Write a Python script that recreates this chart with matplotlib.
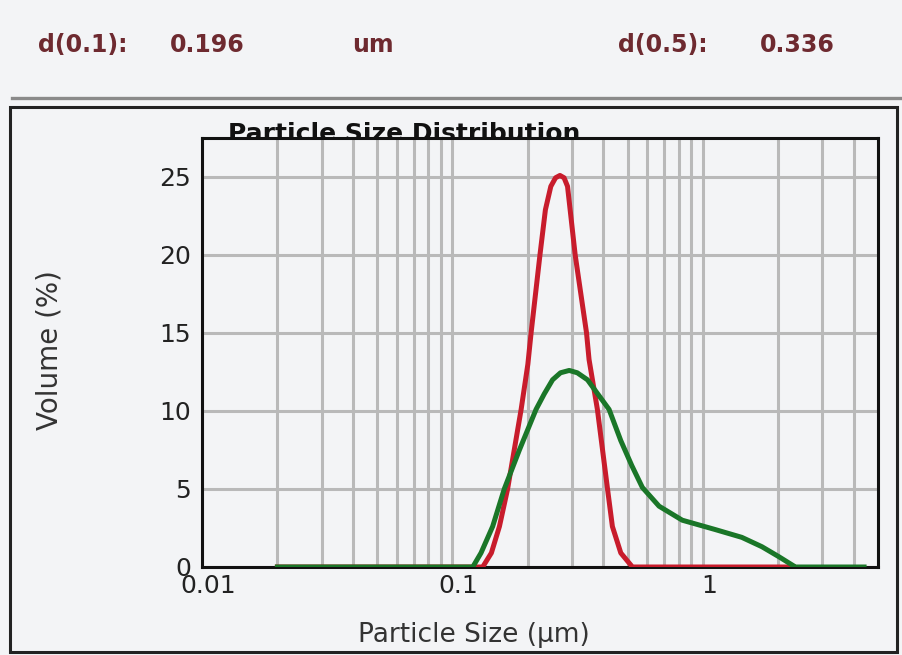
import numpy as np
import matplotlib
matplotlib.use('Agg')
import matplotlib.pyplot as plt
from matplotlib.ticker import LogLocator, FixedLocator, NullFormatter
from matplotlib.lines import Line2D
from matplotlib.patches import Rectangle
from matplotlib.transforms import ScaledTranslation

''' Data read from the reference '''
red_size = [0.02, 0.132, 0.143, 0.154, 0.166, 0.188, 0.200, 0.206, 0.2235, 0.235, 0.247,
            0.258, 0.2686, 0.279, 0.288, 0.295, 0.309, 0.343, 0.351, 0.379, 0.416, 0.435,
            0.47, 0.523, 2.3]
red_vol = [0, 0, 0.9, 2.6, 5.0, 10.1, 13.0, 15.0, 20.0, 22.9, 24.4,
           24.95, 25.1, 24.95, 24.4, 22.9, 20.0, 15.0, 13.3, 10.1, 5.0, 2.6,
           0.9, 0, 0]

green_size = [0.02, 0.1205, 0.130, 0.1447, 0.161, 0.185, 0.2156, 0.2326, 0.251, 0.27,
              0.2925, 0.315, 0.346, 0.38, 0.422, 0.47, 0.52, 0.573, 0.668, 0.827,
              1.12, 1.43, 1.72, 2.01, 2.34, 4.4]
green_vol = [0, 0, 0.9, 2.6, 5.0, 7.5, 10.1, 11.1, 12.0, 12.45,
             12.6, 12.45, 12.0, 11.1, 10.1, 8.1, 6.5, 5.1, 3.9, 3.0,
             2.4, 1.9, 1.3, 0.66, 0, 0]

x_ticks = [0.01, 0.1, 1]
x_tick_labels = ['0.01', '0.1', '1']
y_ticks = [0, 5, 10, 15, 20, 25]

header = [('d(0.1):', 38), ('0.196', 170), ('um', 352), ('d(0.5):', 618), ('0.336', 760)]

bg = '#f3f4f6'
W, H = 902, 655

fig = plt.figure(figsize=(W / 100, H / 100), dpi=100, facecolor=bg)

''' Header line and box '''
fig.add_artist(Line2D([12 / W, 1], [1 - 98 / H, 1 - 98 / H], color='#8a8a8a', lw=2.4))
fig.add_artist(Rectangle((10 / W, 1 - 652 / H), 887 / W, 545 / H, fill=False,
                         edgecolor='#222222', lw=2.2))

for txt, px in header:
    fig.text(px / W, 1 - 45 / H, txt, color='#6e2a30', fontsize=17, fontweight='bold',
             va='center', ha='left')

''' Title, partly hidden behind the plot area '''
fig.text(404 / W, 1 - 141 / H, 'Particle Size Distribution', fontsize=18, fontweight='bold',
         ha='center', va='baseline', color='#111111', zorder=-1)

''' Plot area '''
ax = fig.add_axes([202 / W, 1 - 567 / H, 676 / W, 429 / H], facecolor=bg)
ax.set_xscale('log')
ax.set_xlim(0.01, 5)
ax.set_ylim(0, 27.5)

ax.plot(red_size, red_vol, color='#c81c2c', lw=3.6, solid_joinstyle='round', zorder=3)
ax.plot(green_size, green_vol, color='#1a7628', lw=3.6, solid_joinstyle='round', zorder=4)

ax.xaxis.set_major_locator(FixedLocator(x_ticks))
ax.set_xticklabels(x_tick_labels)
ax.xaxis.set_minor_locator(LogLocator(base=10, subs=np.arange(2, 10)))
ax.xaxis.set_minor_formatter(NullFormatter())
ax.set_yticks(y_ticks)

ax.grid(True, which='both', axis='x', color='#b9b9b9', lw=2.2)
ax.grid(True, which='major', axis='y', color='#b9b9b9', lw=2.2)
ax.set_axisbelow(True)

ax.tick_params(which='both', length=0, labelsize=18, colors='#222222')
ax.tick_params(axis='y', pad=8)
ax.tick_params(axis='x', pad=5)
shift = ScaledTranslation(6 / 100, 0, fig.dpi_scale_trans)
for lab in ax.get_xticklabels():
    lab.set_transform(lab.get_transform() + shift)
for s in ax.spines.values():
    s.set_linewidth(2.2)
    s.set_color('#111111')

fig.text(474 / W, 1 - 635 / H, 'Particle Size (\u00b5m)', fontsize=19, ha='center',
         va='center', color='#333333')
fig.text(50 / W, 1 - 350 / H, 'Volume (%)', fontsize=20, rotation=90, ha='center',
         va='center', color='#333333')

fig.savefig('out.png', dpi=100, facecolor=bg)
